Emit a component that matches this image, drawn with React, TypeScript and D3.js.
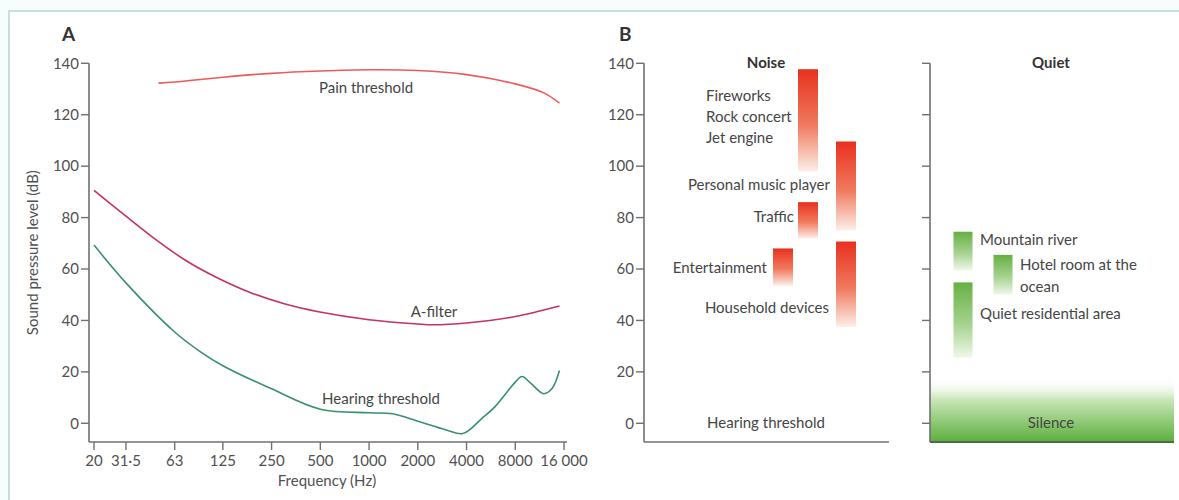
import React from "react";
import * as d3 from "d3";

// ---------- Data ----------
const freqTicks = [20, 31.5, 63, 125, 250, 500, 1000, 2000, 4000, 8000, 16000];
const freqTickLabels = ["20", "31·5", "63", "125", "250", "500", "1000", "2000", "4000", "8000", "16 000"];
const dbTicks = [0, 20, 40, 60, 80, 100, 120, 140];

const painFreq = [50, 63, 125, 250, 500, 1000, 2000, 4000, 8000, 12000, 15000];
const painDb = [132.3, 132.7, 134.6, 136.1, 137, 137.5, 137.2, 135.6, 132, 128.5, 124.5];

const aFreq = [20, 28.3, 45.5, 73, 117, 189, 303, 487, 1000, 2000, 2500, 4000, 8000, 15000];
const aDb = [90.6, 82.9, 72.6, 63.5, 56.4, 50.6, 46.4, 43.4, 40.3, 38.6, 38.3, 39, 41.5, 45.6];

const hearFreq = [20, 31.5, 63, 90, 125, 250, 500, 1000, 1400, 2000, 3000, 3800, 5000, 6000, 8000, 8800, 10000, 12000, 13500, 15000];
const hearDb = [69.3, 54.6, 35.5, 28, 22.4, 13.4, 5.5, 4.1, 3.7, 0.8, -2.6, -4, 2, 6.5, 16, 18.2, 15.5, 11.5, 13.5, 20.5];

const noiseNames = ["Fireworks", "Personal music player", "Traffic", "Entertainment", "Household devices"];
const noiseLow = [98, 75, 72, 53.5, 37.5];
const noiseHigh = [137.7, 109.6, 86, 68, 70.7];
const noiseColumn = ["b", "c", "b", "a", "c"];

const quietNames = ["Mountain river", "Hotel room at the ocean", "Quiet residential area"];
const quietLow = [59.5, 50, 25.5];
const quietHigh = [74.5, 65.5, 54.8];
const quietColumn = ["a", "b", "a"];

const silenceHigh = 18;

// ---------- Layout ----------
const W = 1179;
const H = 500;
const FONT = "Lato, 'Open Sans', sans-serif";
const TXT = "#454545";
const TICK = "#505050";
const AXIS = "#707070";

const yTop = 63.3;
const yZero = 423.3;
const axisBottom = 442;

export default function App() {
  const xA = d3.scaleLog().base(2).domain([20, 16000]).range([94, 564]);
  const y = d3.scaleLinear().domain([0, 140]).range([yZero, yTop]);

  const line = (fs: number[], ds: number[]) =>
    d3
      .line<number>()
      .x((_, i) => xA(fs[i]))
      .y((d) => y(d))
      .curve(d3.curveCatmullRom.alpha(0.5))(ds) || "";

  const axA = 89;
  const axB1 = 644;
  const axB2 = 930;
  const bRight1 = 889;
  const bRight2 = 1174;

  const noiseX = d3.scaleOrdinal<string, number>().domain(["a", "b", "c"]).range([773, 798, 836]);
  const quietX = d3.scaleOrdinal<string, number>().domain(["a", "b"]).range([953.5, 993.5]);
  const barW = 20;

  const yAxis = (x: number, labels: boolean) => (
    <g>
      <line x1={x} x2={x} y1={y(140)} y2={axisBottom} stroke={AXIS} strokeWidth={1.6} />
      {dbTicks.map((t) => (
        <g key={t}>
          <line x1={x - 8} x2={x} y1={y(t)} y2={y(t)} stroke={AXIS} strokeWidth={1.4} />
          {labels && (
            <text x={x - 10} y={y(t)} dy="0.35em" textAnchor="end" fontSize={15} fill={TICK}>
              {t}
            </text>
          )}
        </g>
      ))}
    </g>
  );

  return (
    <svg width={W} height={H} style={{ position: "absolute", left: 0, top: 0 }} fontFamily={FONT}>
      <defs>
        <linearGradient id="redGrad" x1="0" y1="0" x2="0" y2="1">
          <stop offset="0%" stopColor="#e8311f" />
          <stop offset="55%" stopColor="#f07a5e" />
          <stop offset="100%" stopColor="#fdeee8" />
        </linearGradient>
        <linearGradient id="greenGrad" x1="0" y1="0" x2="0" y2="1">
          <stop offset="0%" stopColor="#66b043" />
          <stop offset="55%" stopColor="#a5d28e" />
          <stop offset="100%" stopColor="#eff8ea" />
        </linearGradient>
        <linearGradient id="silGrad" x1="0" y1="0" x2="0" y2="1">
          <stop offset="0%" stopColor="#ffffff" stopOpacity={0} />
          <stop offset="35%" stopColor="#c8e6b8" />
          <stop offset="100%" stopColor="#5cae3c" />
        </linearGradient>
      </defs>
      <rect x={0} y={0} width={W} height={H} fill="#f7fcfc" />
      <rect x={9} y={11} width={W} height={H} fill="#ffffff" stroke="#b5d6cf" strokeWidth={1.5} />

      {/* Panel A */}
      <text x={62} y={41} fontSize={19} fontWeight="bold" fill="#333">A</text>
      {yAxis(axA, true)}
      <line x1={axA} x2={567} y1={axisBottom} y2={axisBottom} stroke={AXIS} strokeWidth={1.6} />
      {freqTicks.map((f, i) => (
        <g key={f}>
          <line x1={xA(f)} x2={xA(f)} y1={axisBottom} y2={axisBottom + 8} stroke={AXIS} strokeWidth={1.4} />
          <text x={xA(f)} y={axisBottom + 24} textAnchor="middle" fontSize={15} fill={TICK}>
            {freqTickLabels[i]}
          </text>
        </g>
      ))}
      <text x={327} y={486} textAnchor="middle" fontSize={15} fill={TICK}>Frequency (Hz)</text>
      <text transform={`translate(38,${(y(140) + axisBottom) / 2}) rotate(-90)`} textAnchor="middle" fontSize={15} fill={TICK}>
        Sound pressure level (dB)
      </text>

      <path d={line(painFreq, painDb)} fill="none" stroke="#ee5a5c" strokeWidth={1.6} />
      <path d={line(aFreq, aDb)} fill="none" stroke="#c3335e" strokeWidth={1.6} />
      <path d={line(hearFreq, hearDb)} fill="none" stroke="#3a8f6c" strokeWidth={1.6} />
      <text x={366} y={93} textAnchor="middle" fontSize={15} fill={TXT}>Pain threshold</text>
      <text x={434} y={317} textAnchor="middle" fontSize={15} fill={TXT}>A-filter</text>
      <text x={381} y={404} textAnchor="middle" fontSize={15} fill={TXT}>Hearing threshold</text>

      {/* Panel B */}
      <text x={619} y={41} fontSize={19} fontWeight="bold" fill="#333">B</text>
      {yAxis(axB1, true)}
      <line x1={axB1} x2={bRight1} y1={axisBottom} y2={axisBottom} stroke={AXIS} strokeWidth={1.6} />
      <rect
        x={axB2}
        y={y(silenceHigh)}
        width={bRight2 - axB2}
        height={axisBottom - y(silenceHigh)}
        fill="url(#silGrad)"
      />
      {yAxis(axB2, false)}
      <line x1={axB2} x2={bRight2} y1={axisBottom} y2={axisBottom} stroke="#4f6a45" strokeWidth={1.8} />

      <text x={766} y={68} textAnchor="middle" fontSize={15} fontWeight="bold" fill="#333">Noise</text>
      <text x={1051} y={68} textAnchor="middle" fontSize={15} fontWeight="bold" fill="#333">Quiet</text>

      {noiseNames.map((n, i) => (
        <rect
          key={n}
          x={noiseX(noiseColumn[i])}
          y={y(noiseHigh[i])}
          width={barW}
          height={y(noiseLow[i]) - y(noiseHigh[i])}
          fill="url(#redGrad)"
        />
      ))}
      {quietNames.map((n, i) => (
        <rect
          key={n}
          x={quietX(quietColumn[i])}
          y={y(quietHigh[i])}
          width={barW - 1}
          height={y(quietLow[i]) - y(quietHigh[i])}
          fill="url(#greenGrad)"
        />
      ))}

      <g fontSize={15} fill={TXT}>
        <text x={706} y={101}>Fireworks</text>
        <text x={706} y={122}>Rock concert</text>
        <text x={706} y={143}>Jet engine</text>
        <text x={830} y={190} textAnchor="end">Personal music player</text>
        <text x={794} y={222} textAnchor="end">Traffic</text>
        <text x={767} y={273} textAnchor="end">Entertainment</text>
        <text x={829} y={313} textAnchor="end">Household devices</text>
        <text x={766} y={428} textAnchor="middle">Hearing threshold</text>
        <text x={980} y={245}>Mountain river</text>
        <text x={1020} y={270}>Hotel room at the</text>
        <text x={1020} y={292}>ocean</text>
        <text x={980} y={319}>Quiet residential area</text>
        <text x={1051} y={428} textAnchor="middle">Silence</text>
      </g>
    </svg>
  );
}
